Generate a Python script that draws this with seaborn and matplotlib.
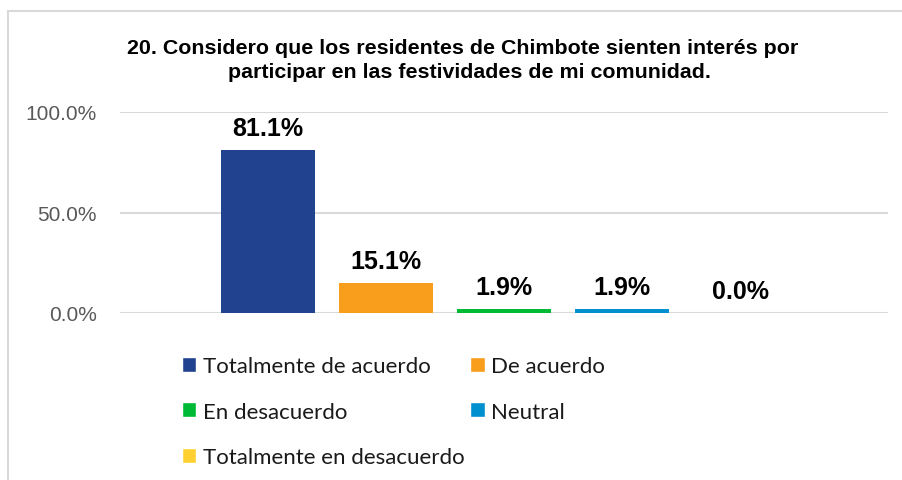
import pandas as pd
import matplotlib
matplotlib.use("Agg")
import matplotlib.pyplot as plt
import seaborn as sns
from matplotlib.patches import Patch
from matplotlib.lines import Line2D
from matplotlib.ticker import FuncFormatter

#-------------------------------------------------------------------------------
#   data
#-------------------------------------------------------------------------------
categorias = ["Totalmente de acuerdo", "De acuerdo", "En desacuerdo",
              "Neutral", "Totalmente en desacuerdo"]
porcentajes = [81.1, 15.1, 1.9, 1.9, 0.0]
colores = ["#21428F", "#F99D1C", "#00B934", "#008FCF", "#FFD030"]
titulo_1 = "20. Considero que los residentes de Chimbote sienten interés por"
titulo_2 = "participar en las festividades de mi comunidad."
ticks_y = [0, 50, 100]

df = pd.DataFrame({"categoria": categorias, "porcentaje": porcentajes})

sns.set_style("white")
plt.rcParams["font.family"] = ["Liberation Sans", "DejaVu Sans"]

W, H = 903, 481
fig = plt.figure(figsize=(W / 100, H / 100), dpi=100)

# light frame: only the top and left sides are inside the picture
marco = dict(transform=fig.transFigure, color="#D9D9D9", linewidth=1.5)
fig.lines.append(Line2D([8 / W, 1.05], [1 - 12 / H, 1 - 12 / H], **marco))
fig.lines.append(Line2D([8 / W, 8 / W], [1 - 12 / H, -0.05], **marco))

ax = fig.add_axes([120 / W, (H - 314) / H, 768 / W, 201 / H])

sns.barplot(data=df, x="categoria", y="porcentaje", hue="categoria",
            palette=colores, width=0.8, legend=False, saturation=1,
            linewidth=0, ax=ax)

ax.set_xlim(-1.254, 5.254)
ax.set_ylim(0, 100)
ax.set_yticks(ticks_y)
ax.yaxis.set_major_formatter(FuncFormatter(lambda v, p: "{:.1f}%".format(v)))
ax.tick_params(axis="y", labelsize=15, labelcolor="#595959", length=0, pad=16.5)
ax.set_xticks([])
ax.set_xlabel("")
ax.set_ylabel("")
ax.grid(axis="y", color="#D9D9D9", linewidth=1.5)
ax.set_axisbelow(True)
for s in ax.spines.values():
    s.set_visible(False)

# value labels on top of each bar
for i, v in enumerate(porcentajes):
    ax.annotate("{:.1f}%".format(v), (i, v), xytext=(0, 7),
                textcoords="offset points", ha="center", va="bottom",
                fontsize=18, fontweight="bold", color="black")

# title in two lines
fig.text(463 / W, 1 - 54 / H, titulo_1, ha="center", va="baseline",
         fontsize=15.4, fontweight="bold", color="black")
fig.text(469 / W, 1 - 78 / H, titulo_2, ha="center", va="baseline",
         fontsize=15.4, fontweight="bold", color="black")

# legend, filled row by row like the original
orden = [0, 2, 4, 1, 3]
handles = [Patch(facecolor=colores[i], label=categorias[i]) for i in orden]
leg = fig.legend(handles=handles, loc="upper left",
                 bbox_to_anchor=(182 / W, 1 - 357 / H), ncol=2, frameon=False,
                 prop={"family": ["Lato", "DejaVu Sans"], "size": 16},
                 handlelength=0.65, handleheight=0.65, handletextpad=0.3,
                 columnspacing=0.25, labelspacing=1.15, borderpad=0,
                 borderaxespad=0)
for t in leg.get_texts():
    t.set_color("#1A1A1A")

fig.savefig("out.png", dpi=100)
